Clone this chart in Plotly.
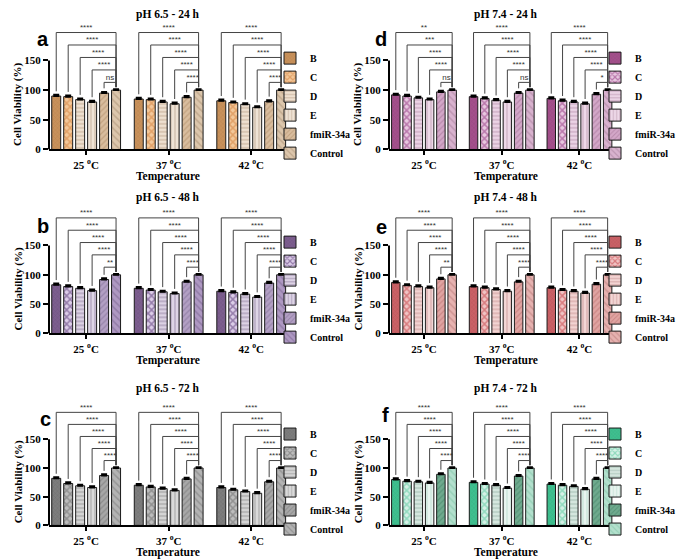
import plotly.graph_objects as go

# ---------------- data ----------------
series = ["B", "C", "D", "E", "fmiR-34a", "Control"]
groups = ["25 °C", "37 °C", "42 °C"]
tick_text = ["25 <sup>o</sup>C", "37 <sup>o</sup>C", "42 <sup>o</sup>C"]

# rows = series (B..Control), columns = temperature groups
ph65_24 = [[90, 85, 82], [89, 84, 79], [84, 80, 76], [80, 77, 71], [95, 88, 81], [100, 100, 100]]
ph74_24 = [[92, 89, 86], [90, 86, 82], [87, 83, 80], [84, 80, 77], [97, 95, 93], [100, 100, 100]]
ph65_48 = [[83, 77, 72], [80, 74, 70], [77, 71, 67], [73, 68, 62], [92, 88, 86], [100, 100, 100]]
ph74_48 = [[87, 80, 78], [82, 78, 74], [80, 75, 72], [78, 72, 69], [93, 88, 84], [100, 100, 100]]
ph65_72 = [[82, 70, 66], [73, 67, 62], [69, 64, 59], [66, 61, 56], [87, 81, 76], [100, 100, 100]]
ph74_72 = [[80, 75, 72], [77, 72, 70], [76, 70, 68], [74, 65, 63], [89, 86, 81], [100, 100, 100]]

sd_values = [2, 2, 2, 2, 2, 1.5]

# significance vs Control, per group, for B, C, D, E, fmiR-34a
sig_ph65_24 = [["****", "****", "****", "****", "ns"], ["****", "****", "****", "****", "****"], ["****", "****", "****", "****", "****"]]
sig_ph74_24 = [["**", "***", "****", "****", "ns"], ["****", "****", "****", "****", "ns"], ["****", "****", "****", "****", "*"]]
sig_ph65_48 = [["****", "****", "****", "****", "**"], ["****", "****", "****", "****", "****"], ["****", "****", "****", "****", "****"]]
sig_ph74_48 = [["****", "****", "****", "****", "**"], ["****", "****", "****", "****", "****"], ["****", "****", "****", "****", "****"]]
sig_ph65_72 = [["****", "****", "****", "****", "****"], ["****", "****", "****", "****", "****"], ["****", "****", "****", "****", "****"]]
sig_ph74_72 = [["****", "****", "****", "****", "****"], ["****", "****", "****", "****", "****"], ["****", "****", "****", "****", "****"]]

titles = ["pH 6.5 - 24 h", "pH 7.4 - 24 h", "pH 6.5 - 48 h", "pH 7.4 - 48 h", "pH 6.5 - 72 h", "pH 7.4 - 72 h"]
letters = ["a", "d", "b", "e", "c", "f"]

# ---------------- styles ----------------
shapes_pat = ["x", "x", "-", "|", "/", "\\"]
pat_size = [3, 5, 4, 4, 4, 5]
pat_solid = [0.25, 0.5, 0.3, 0.3, 0.3, 0.3]

palettes = [
    # a tan
    [("#C8915B", "#A87441"), ("#F3C89A", "#D07A35"), ("#EEE0D0", "#A88C70"), ("#EFE3D5", "#A89078"), ("#D9BD9E", "#A9865F"), ("#DCC6AC", "#A58C70")],
    # d purple-pink
    [("#A3508B", "#8A3C76"), ("#E8C8E0", "#8A2878"), ("#EBD3E5", "#A57A98"), ("#EED8E8", "#A88399"), ("#D3A7C8", "#9E6C90"), ("#D8B2CE", "#A37B98")],
    # b dark purple
    [("#7C5E8E", "#5F4572"), ("#DCCDE8", "#4E2C6B"), ("#DCD2E4", "#6E5A80"), ("#DED5E6", "#76648A"), ("#B3A0C4", "#7A6790"), ("#AE98C2", "#75608C")],
    # e red
    [("#C96166", "#A9474C"), ("#F0C4C4", "#C0343A"), ("#F2D3D2", "#B47876"), ("#F3D6D5", "#B57C7A"), ("#E0A4A2", "#B56A68"), ("#E6B2B0", "#B57674")],
    # c gray
    [("#7D7D7D", "#5E5E5E"), ("#BDBDBD", "#666666"), ("#D4D4D4", "#777777"), ("#DADADA", "#7E7E7E"), ("#A8A8A8", "#6E6E6E"), ("#B3B3B3", "#777777")],
    # f green
    [("#3FBF8F", "#2E9F74"), ("#D6F0E6", "#4CC396"), ("#D5E6DE", "#84A898"), ("#E8F4EF", "#A3D4C0"), ("#6FAA8E", "#3F7F63"), ("#B3E0CD", "#7FC3A6")],
]

panels = [ph65_24, ph74_24, ph65_48, ph74_48, ph65_72, ph74_72]
sigs = [sig_ph65_24, sig_ph74_24, sig_ph65_48, sig_ph74_48, sig_ph65_72, sig_ph74_72]

W, H = 685, 559
FONT = "Liberation Serif"
BARGAP = 0.13
BARGROUPGAP = 0.25
YMAX = 215

# pixel layout per row: zero line y, px per unit
rows_px = [(143, 0.60), (329, 0.593), (523, 0.58)]
cols_px = [(41, 282), (381, 608)]
legend_x = [262, 587]
title_y = [7, 192, 385]
letter_pos = [(35, 31), (373, 31), (35, 220), (373, 221), (37, 415), (377, 411)]
legend_top = [36, 222, 416]

def px(x):
    return x / W

def py(y):
    return 1 - y / H

fig = go.Figure()
layout_extra = {}
annotations = []
shapes = []

for p in range(6):
    r, c = p // 2, p % 2
    ax = "" if p == 0 else str(p + 1)
    xref, yref = "x" + ax, "y" + ax
    leg = "legend" if p == 0 else "legend" + str(p + 1)
    data = panels[p]
    for j, name in enumerate(series):
        bg, fg = palettes[p][j]
        fig.add_trace(go.Bar(
            x=[0, 1, 2], y=data[j], name=name,
            xaxis=xref, yaxis=yref, legend=leg,
            marker=dict(color=bg, line=dict(color="#1a1a1a", width=1),
                        pattern=dict(shape=shapes_pat[j], bgcolor=bg, fgcolor=fg,
                                     size=pat_size[j], solidity=pat_solid[j])),
            error_y=dict(type="data", array=[sd_values[j]] * 3, color="black",
                         thickness=2, width=3, symmetric=False, arrayminus=[0, 0, 0]),
        ))
    # brackets
    w = 1 - BARGAP
    bx, by, tx, ty, tt = [], [], [], [], []
    for g in range(3):
        xc = [g - w / 2 + (j + 0.5) * w / 6 for j in range(6)]
        ctrl_top = data[5][g] + 5
        for j in range(5):
            k = 4 - j
            level = 113 + 21 * k
            left_bottom = data[j][g] + 8
            bx += [xc[j], xc[j], xc[5], xc[5], None]
            by += [left_bottom, level, level, ctrl_top, None]
            tx.append((xc[j] + xc[5]) / 2)
            ty.append(level + 1)
            tt.append(sigs[p][g][j])
    fig.add_trace(go.Scatter(x=bx, y=by, mode="lines", xaxis=xref, yaxis=yref,
                             line=dict(color="#444444", width=1), showlegend=False,
                             hoverinfo="skip"))
    fig.add_trace(go.Scatter(x=tx, y=ty, mode="text", text=tt, textposition="top center",
                             xaxis=xref, yaxis=yref, showlegend=False,
                             textfont=dict(family="Liberation Sans", size=8, color="#333333"),
                             hoverinfo="skip"))

    y0, s = rows_px[r]
    xl, xr = cols_px[c]
    ytop = y0 - YMAX * s
    xa = dict(domain=[px(xl), px(xr)], range=[-0.45, 2.47], anchor=yref,
              tickvals=[0, 1, 2], ticktext=tick_text, showline=True, linewidth=2,
              linecolor="black", ticks="outside", ticklen=4, tickwidth=2, tickcolor="black",
              showgrid=False, zeroline=False,
              tickfont=dict(family=FONT, size=11, color="black", weight="bold"))
    ya = dict(domain=[py(y0), py(ytop)], range=[0, YMAX], anchor=xref,
              tickvals=[0, 50, 100, 150],
              showline=False, ticks="outside", ticklen=5, tickwidth=2, tickcolor="black",
              showgrid=False, zeroline=False,
              tickfont=dict(family=FONT, size=11, color="black", weight="bold"))
    layout_extra["xaxis" + ax] = xa
    layout_extra["yaxis" + ax] = ya
    layout_extra[leg] = dict(x=px(legend_x[c]), y=py(legend_top[r]), xanchor="left", yanchor="top",
                             font=dict(family=FONT, size=10, color="black", weight="bold"),
                             bgcolor="rgba(0,0,0,0)", itemwidth=30, tracegroupgap=0)
    shapes.append(dict(type="line", xref=xref + " domain", x0=0, x1=0, yref=yref, y0=0, y1=150,
                       line=dict(color="black", width=2)))
    # title
    annotations.append(dict(text="<b>" + titles[p] + "</b>", x=px(160 if c == 0 else 498), y=py(title_y[r]),
                            xref="paper", yref="paper", showarrow=False, xanchor="center", yanchor="middle",
                            font=dict(family=FONT, size=11.5, color="black")))
    # letter
    lx, ly = letter_pos[p]
    annotations.append(dict(text="<b>" + letters[p] + "</b>", x=px(lx), y=py(ly), xref="paper", yref="paper",
                            showarrow=False, xanchor="center", yanchor="middle",
                            font=dict(family="Liberation Sans", size=20, color="black")))
    # y title
    annotations.append(dict(text="<b>Cell Viability (%)</b>", x=px(10 if c == 0 else 350), y=py(y0 - 75 * s),
                            xref="paper", yref="paper", showarrow=False, textangle=-90,
                            xanchor="center", yanchor="middle",
                            font=dict(family=FONT, size=11, color="black")))
    # x title
    annotations.append(dict(text="<b>Temperature</b>", x=px(160 if c == 0 else 498), y=py(y0 + 27),
                            xref="paper", yref="paper", showarrow=False, xanchor="center", yanchor="middle",
                            font=dict(family=FONT, size=11.5, color="black")))

fig.update_layout(
    width=W, height=H, margin=dict(l=0, r=0, t=0, b=0),
    paper_bgcolor="white", plot_bgcolor="white",
    barmode="group", bargap=BARGAP, bargroupgap=BARGROUPGAP,
    annotations=annotations, shapes=shapes,
    font=dict(family=FONT, color="black"),
    **layout_extra,
)

fig.write_html("out.html")
